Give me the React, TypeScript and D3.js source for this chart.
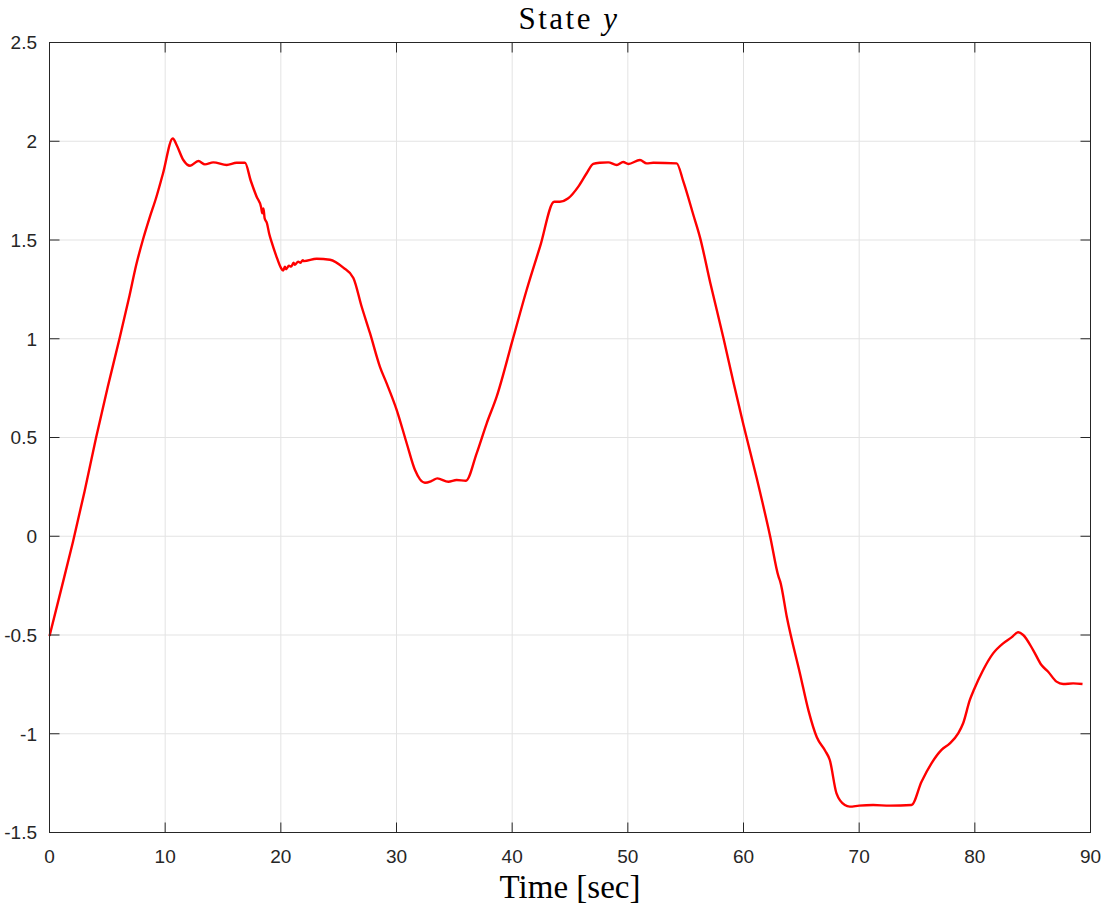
import React from "react";
import * as d3 from "d3";

const times: number[] = [
  0, 1.01, 2.02, 3.03, 4.03, 5.04, 6.05, 6.92, 7.49, 8.07, 8.65, 9.22, 9.8, 10.66,
  11.0, 11.57, 12.15, 12.87, 13.44, 14.16, 15.32, 16.18, 16.9,
  17.4, 17.9, 18.3, 18.4, 18.5, 18.6, 18.8, 19.0, 19.2, 19.6, 20.0, 20.2,
  20.35, 20.45, 20.7, 20.9, 21.1, 21.2, 21.5, 21.7, 21.9, 22.0, 23.1, 24.25,
  25.4, 26.27, 26.99, 27.71, 28.57, 29.15, 30.02, 30.88, 31.6, 32.03, 32.46,
  33.04, 33.53, 34.48, 35.2, 36.0, 36.93, 37.8, 38.66, 40.04, 41.25, 42.41,
  43.64, 44.13, 44.85, 45.72, 46.44, 47.01, 47.59, 48.31, 49.04, 49.6, 50.04,
  51.05, 51.63, 52.2, 54.22, 54.81, 55.68, 56.25, 57.12, 58.27, 59.14, 60.0,
  61.15, 62.31, 63.03, 63.17, 63.75, 64.91, 65.62, 66.34, 67.06, 67.46, 68.04,
  68.76, 69.19, 70.0, 71.21, 72.65, 74.52, 75.39, 76.25, 77.12, 77.84, 78.56,
  78.99, 79.57, 79.94, 80.72, 81.58, 82.45, 83.17, 83.75, 84.18, 85.04, 85.76,
  86.34, 87.06, 87.64, 88.5, 89.31,
];

const stateY: number[] = [
  -0.505, -0.269, -0.03, 0.227, 0.5, 0.757, 1.0, 1.219, 1.372, 1.5, 1.612, 1.714, 1.834, 2.014,
  1.98, 1.905, 1.876, 1.9, 1.883, 1.893, 1.88, 1.891, 1.891,
  1.8, 1.72, 1.665, 1.635, 1.66, 1.61, 1.585, 1.53, 1.49, 1.42, 1.36, 1.345,
  1.365, 1.352, 1.37, 1.365, 1.385, 1.375, 1.39, 1.385, 1.398, 1.393, 1.405, 1.4,
  1.36, 1.308, 1.162, 1.028, 0.858, 0.774, 0.639, 0.471, 0.335, 0.288, 0.271,
  0.28, 0.293, 0.276, 0.285, 0.281, 0.42, 0.572, 0.707, 0.994, 1.247, 1.466,
  1.694, 1.694, 1.711, 1.77, 1.838, 1.885, 1.891, 1.893, 1.88, 1.895, 1.885,
  1.905, 1.888, 1.891, 1.888, 1.794, 1.624, 1.511, 1.285, 1.003, 0.777, 0.563,
  0.292, -0.002, -0.205, -0.228, -0.41, -0.702, -0.883, -1.018, -1.086, -1.133, -1.302,
  -1.361, -1.369, -1.364, -1.361, -1.364, -1.361, -1.243, -1.15, -1.082, -1.049, -0.998,
  -0.947, -0.829, -0.775, -0.677, -0.593, -0.542, -0.512, -0.486, -0.5, -0.576, -0.652,
  -0.686, -0.736, -0.748, -0.745, -0.748,
];

const xTicks: number[] = [0, 10, 20, 30, 40, 50, 60, 70, 80, 90];
const yTicks: number[] = [-1.5, -1, -0.5, 0, 0.5, 1, 1.5, 2, 2.5];

const W = 1103;
const H = 909;
const L = 49.5;
const R = 1090.5;
const T = 42.5;
const B = 832.5;

export default function App() {
  const x = d3.scaleLinear().domain([0, 90]).range([L, R]);
  const y = d3.scaleLinear().domain([-1.5, 2.5]).range([B, T]);
  const pts: [number, number][] = times.map((t, i) => [t, stateY[i]]);
  const line = d3
    .line<[number, number]>()
    .x((d) => x(d[0]))
    .y((d) => y(d[1]))
    .curve(d3.curveMonotoneX);
  const axisColor = "#262626";
  const tickLen = 10;
  const sans = "'Liberation Sans', Arial, Helvetica, sans-serif";
  const serif = "'Liberation Serif', 'Times New Roman', serif";
  return (
    <svg
      width={W}
      height={H}
      style={{ position: "absolute", left: 0, top: 0, background: "#fff" }}
    >
      <rect x={0} y={0} width={W} height={H} fill="#fff" />
      {xTicks.map((t) => (
        <line key={"gx" + t} x1={x(t)} x2={x(t)} y1={T} y2={B} stroke="#e3e3e3" strokeWidth={1} />
      ))}
      {yTicks.map((t) => (
        <line key={"gy" + t} x1={L} x2={R} y1={y(t)} y2={y(t)} stroke="#e3e3e3" strokeWidth={1} />
      ))}
      <path d={line(pts) || ""} fill="none" stroke="#ff0000" strokeWidth={2.4} strokeLinejoin="round" />
      <rect x={L} y={T} width={R - L} height={B - T} fill="none" stroke={axisColor} strokeWidth={1} />
      {xTicks.map((t) => (
        <g key={"tx" + t}>
          <line x1={x(t)} x2={x(t)} y1={B} y2={B - tickLen} stroke={axisColor} />
          <line x1={x(t)} x2={x(t)} y1={T} y2={T + tickLen} stroke={axisColor} />
          <text x={x(t)} y={863} textAnchor="middle" fontFamily={sans} fontSize={19} fill={axisColor}>
            {t}
          </text>
        </g>
      ))}
      {yTicks.map((t) => (
        <g key={"ty" + t}>
          <line x1={L} x2={L + tickLen} y1={y(t)} y2={y(t)} stroke={axisColor} />
          <line x1={R} x2={R - tickLen} y1={y(t)} y2={y(t)} stroke={axisColor} />
          <text x={37} y={y(t)} dy="0.36em" textAnchor="end" fontFamily={sans} fontSize={19} fill={axisColor}>
            {t}
          </text>
        </g>
      ))}
      <text x={569} y={29} textAnchor="middle" fontFamily={serif} fontSize={31} letterSpacing={2.5} fill="#000">
        State <tspan fontStyle="italic">y</tspan>
      </text>
      <text x={570} y={898} textAnchor="middle" fontFamily={serif} fontSize={33} fill="#000">
        Time [sec]
      </text>
    </svg>
  );
}
